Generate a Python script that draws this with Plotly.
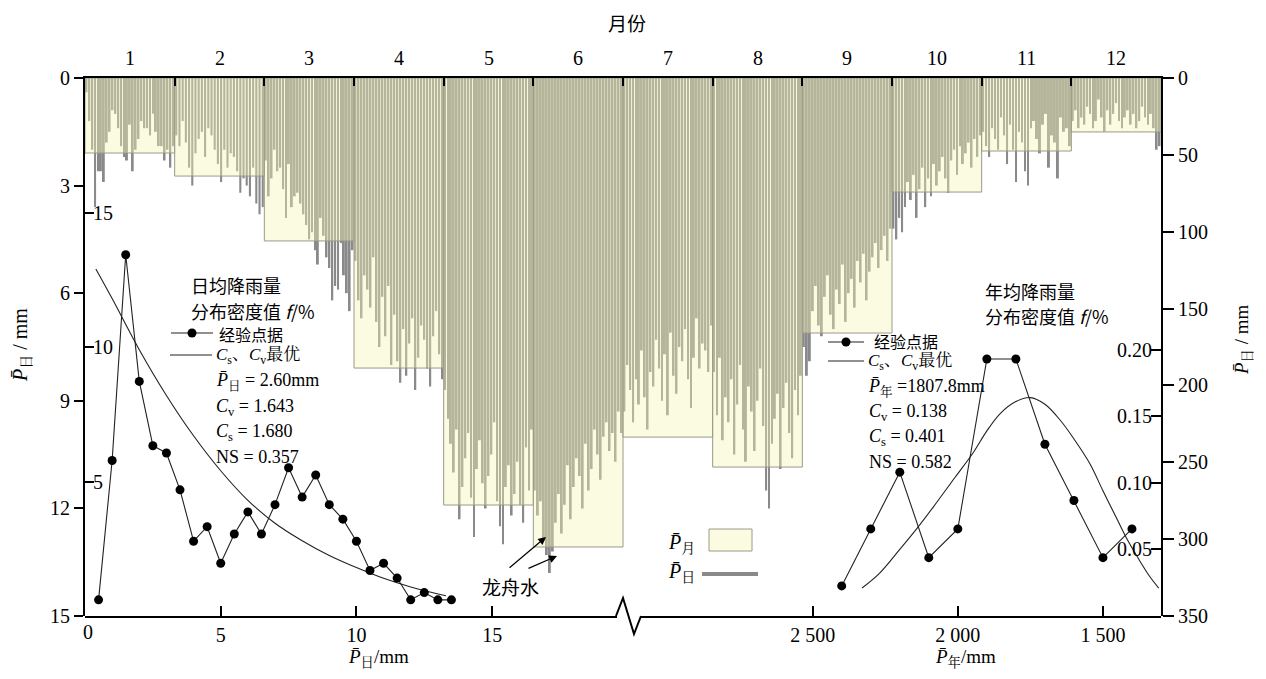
import plotly.graph_objects as go

# ---------------- data ----------------
months = ["1", "2", "3", "4", "5", "6", "7", "8", "9", "10", "11", "12"]

# daily mean rainfall (mm) for every day, month by month (left axis, 0-15)
jan = [0.4, 1.2, 2.0, 3.6, 2.6, 2.6, 2.9, 1.8, 1.5, 0.9, 1.0, 1.4, 1.9, 2.2, 2.3, 1.3,
       2.6, 2.0, 1.7, 1.2, 1.4, 1.4, 1.6, 1.0, 1.5, 1.9, 1.9, 2.3, 2.0, 2.5, 1.9]
feb = [1.6, 1.9, 1.2, 1.8, 2.5, 3.0, 2.1, 1.7, 1.5, 2.2, 1.4, 1.6, 2.0, 2.4, 2.9, 2.0,
       2.5, 2.1, 2.2, 2.6, 3.2, 2.8, 3.0, 3.3, 2.5, 3.5, 3.8, 3.6]
mar = [2.3, 3.3, 2.8, 2.0, 2.6, 2.5, 3.1, 3.9, 2.4, 3.6, 3.3, 3.2, 3.5, 3.8, 4.1, 4.5,
       4.3, 4.8, 5.2, 3.9, 4.4, 5.0, 5.3, 6.2, 5.8, 5.9, 4.6, 5.5, 6.0, 6.5, 4.8]
apr = [5.1, 6.2, 6.7, 5.5, 5.9, 6.4, 5.0, 6.8, 7.5, 6.1, 7.2, 5.8, 8.0, 6.6, 7.9, 8.5,
       7.0, 8.3, 7.4, 6.7, 8.7, 7.8, 6.9, 7.3, 8.1, 8.6, 7.2, 6.5, 7.7, 8.4]
may = [8.7, 9.5, 10.2, 11.0, 9.8, 12.3, 11.4, 10.6, 9.9, 11.7, 12.8, 10.9, 10.1, 11.3,
       12.0, 11.1, 10.5, 9.6, 11.8, 12.5, 13.0, 11.4, 10.8, 12.2, 11.6, 10.7, 11.9, 12.4,
       10.3, 11.5, 9.8]
jun = [11.5, 12.2, 11.8, 12.9, 13.3, 13.8, 13.2, 12.4, 11.6, 12.7, 11.9, 10.8, 12.3, 11.4,
       10.6, 11.1, 12.0, 10.2, 11.5, 10.9, 9.8, 10.5, 11.2, 10.0, 9.6, 10.4, 9.9, 10.7, 9.3, 9.9]
jul = [9.3, 8.0, 8.7, 9.6, 8.4, 9.1, 7.6, 8.9, 9.8, 8.2, 8.6, 7.3, 8.1, 9.0, 7.7, 9.4,
       7.1, 8.3, 8.8, 7.5, 7.9, 7.0, 8.4, 9.2, 7.8, 6.7, 8.1, 7.4, 7.6, 8.2, 6.9]
aug = [8.2, 9.4, 7.8, 10.1, 8.9, 9.6, 8.4, 10.5, 9.1, 8.0, 9.8, 10.7, 8.6, 9.3, 10.4, 9.0,
       8.1, 9.7, 11.5, 12.0, 10.2, 9.5, 8.8, 10.9, 9.2, 8.5, 9.9, 10.6, 8.7, 9.4, 8.3]
sep = [7.5, 8.3, 7.9, 6.5, 5.8, 6.9, 7.2, 6.1, 5.5, 6.6, 7.0, 5.9, 6.3, 5.2, 6.8, 6.0,
       5.6, 6.4, 5.1, 5.7, 4.9, 6.2, 5.4, 5.0, 4.6, 5.3, 4.8, 4.4, 5.1, 4.2]
oct_ = [4.2, 4.5, 3.9, 4.3, 3.6, 2.9, 3.4, 2.7, 3.9, 3.1, 2.5, 3.6, 2.8, 3.3, 2.4, 3.0,
        2.6, 2.2, 2.8, 3.2, 2.3, 2.0, 2.7, 1.9, 2.4, 2.1, 1.8, 2.5, 1.7, 2.2, 1.6]
nov = [1.5, 1.9, 2.2, 1.4, 1.7, 2.0, 1.1, 1.6, 2.4, 1.3, 2.0, 2.9, 1.5, 1.8, 2.6, 3.0,
       1.4, 1.2, 1.7, 2.1, 1.3, 1.0, 2.5, 1.6, 1.8, 2.8, 1.1, 1.5, 1.4, 1.9]
dec = [1.2, 0.9, 1.4, 1.1, 1.3, 0.8, 1.0, 1.4, 1.2, 0.6, 1.1, 1.5, 0.9, 1.3, 1.0, 0.7,
       1.2, 1.4, 1.1, 0.9, 1.3, 1.0, 1.4, 1.2, 0.8, 1.1, 1.3, 1.0, 1.4, 2.0, 1.9]
daily_by_month = [jan, feb, mar, apr, may, jun, jul, aug, sep, oct_, nov, dec]

# monthly mean rainfall (mm) (right axis, 0-350)
monthly_P = [48.8, 63.8, 106.0, 188.7, 277.8, 305.1, 233.6, 253.1, 165.9, 74.2, 47.5, 35.1]

# daily rainfall density f/% (empirical points and fitted P-III curve)
day_P = [0.5, 1.0, 1.5, 2.0, 2.5, 3.0, 3.5, 4.0, 4.5, 5.0, 5.5, 6.0, 6.5, 7.0,
         7.5, 8.0, 8.5, 9.0, 9.5, 10.0, 10.5, 11.0, 11.5, 12.0, 12.5, 13.0, 13.5]
day_f = [0.60, 5.78, 13.43, 8.72, 6.33, 6.06, 4.69, 2.78, 3.32, 1.96, 3.05, 3.87, 3.05, 4.14,
         5.51, 4.42, 5.24, 4.14, 3.60, 2.78, 1.69, 1.96, 1.41, 0.60, 0.87, 0.60, 0.60]
day_curve_P = [0.4, 1.0, 2.0, 3.0, 4.0, 5.0, 6.0, 7.0, 8.0, 9.0, 10.0, 11.0, 12.0, 13.3]
day_curve_f = [12.9, 11.8, 9.9, 8.2, 6.7, 5.4, 4.3, 3.45, 2.8, 2.25, 1.8, 1.4, 1.08, 0.75]

# annual rainfall density f/%
yr_P = [2400, 2300, 2200, 2100, 2000, 1900, 1800, 1700, 1600, 1500, 1400]
yr_f = [0.0226, 0.0654, 0.108, 0.0438, 0.0654, 0.193, 0.193, 0.129, 0.0867, 0.0438, 0.0654]
yr_curve_P = [2330, 2270, 2200, 2140, 2084, 2010, 1946, 1900, 1854, 1800, 1751, 1700, 1647,
              1600, 1544, 1500, 1452, 1420, 1383, 1340, 1308]
yr_curve_f = [0.021, 0.032, 0.050, 0.066, 0.082, 0.104, 0.123, 0.139, 0.152, 0.161, 0.164,
              0.159, 0.147, 0.133, 0.114, 0.094, 0.073, 0.059, 0.045, 0.030, 0.021]

# ---------------- geometry helpers (page pixels) ----------------
OFF = 8                      # default body margin of the html page
W, H = 1266 - 2 * OFF, 679 - 2 * OFF
X0, X1, Y0, Y1 = 85, 1161, 78, 616   # plot area in page pixels
PW, PH = X1 - X0, Y1 - Y0
L, T = X0 - OFF, Y0 - OFF
R, B = W - L - PW, H - T - PH


def px(x):
    return (x - X0) / PW


def py(y):
    return (Y1 - y) / PH


FONT = "Liberation Serif, Noto Serif CJK SC, Noto Sans CJK SC, serif"
CJK = "Noto Sans CJK SC, Liberation Serif, sans-serif"

fig = go.Figure()

# daily bars on the month axis
bx, by, bw = [], [], []
for m, vals in enumerate(daily_by_month):
    n = len(vals)
    for d, v in enumerate(vals):
        bx.append(m + (d + 0.5) / n)
        by.append(v)
        bw.append(0.66 / n)
fig.add_trace(go.Bar(x=bx, y=by, width=bw, marker=dict(color="#8a8a8a", line_width=0),
                     xaxis="x", yaxis="y", showlegend=False, hoverinfo="skip"))

# monthly boxes (semi transparent over the daily bars)
fig.add_trace(go.Bar(x=[m + 0.5 for m in range(12)], y=monthly_P, width=[1.0] * 12,
                     marker=dict(color="rgba(244,244,181,0.40)",
                                 line=dict(color="#9a9a8a", width=1)),
                     xaxis="x", yaxis="y2", showlegend=False, hoverinfo="skip"))

# daily density
fig.add_trace(go.Scatter(x=day_curve_P, y=day_curve_f, mode="lines", line_shape="spline",
                         line=dict(color="#222", width=1.1), xaxis="x2", yaxis="y3",
                         showlegend=False))
fig.add_trace(go.Scatter(x=day_P, y=day_f, mode="lines+markers",
                         line=dict(color="#222", width=1.1),
                         marker=dict(color="black", size=9), xaxis="x2", yaxis="y3",
                         showlegend=False))
# annual density
fig.add_trace(go.Scatter(x=yr_curve_P, y=yr_curve_f, mode="lines", line_shape="spline",
                         line=dict(color="#222", width=1.1), xaxis="x3", yaxis="y4",
                         showlegend=False))
fig.add_trace(go.Scatter(x=yr_P, y=yr_f, mode="lines+markers",
                         line=dict(color="#222", width=1.1),
                         marker=dict(color="black", size=9), xaxis="x3", yaxis="y4",
                         showlegend=False))

tickfont = dict(family=FONT, size=20, color="black")
common = dict(showgrid=False, zeroline=False, automargin=False, tickfont=tickfont,
              tickcolor="black", linecolor="black")

fig.update_layout(
    width=W, height=H, margin=dict(l=L, r=R, t=T, b=B, pad=0),
    paper_bgcolor="white", plot_bgcolor="rgba(0,0,0,0)", barmode="overlay", bargap=0.05,
    font=dict(family=FONT, color="black"),
    xaxis=dict(common, range=[0, 12], side="top", anchor="y", showline=True, linewidth=2,
               tickmode="array", tickvals=list(range(13)), showticklabels=False,
               ticks="inside", ticklen=8, tickwidth=2),
    yaxis=dict(common, range=[15, 0], anchor="x", side="left", showline=True, linewidth=2,
               tickmode="array", tickvals=[0, 3, 6, 9, 12, 15], ticks="outside",
               ticklen=9, tickwidth=2),
    yaxis2=dict(common, range=[350, 0], overlaying="y", anchor="x", side="right",
                showline=True, linewidth=2, tickmode="array",
                tickvals=[0, 50, 100, 150, 200, 250, 300, 350], ticks="outside",
                ticklen=11, tickwidth=2),
    xaxis2=dict(common, domain=[0, px(617)], range=[0, 19.6], anchor="y3", side="bottom",
                showline=True, linewidth=2, tickmode="array", tickvals=[5, 10, 15],
                ticks="inside", ticklen=10, tickwidth=2),
    yaxis3=dict(common, domain=[0, 1], range=[0, 20], anchor="x2", side="left",
                showline=False, tickmode="array", tickvals=[5, 10, 15], ticks="inside",
                ticklen=9, tickwidth=2, ticklabelposition="inside"),
    xaxis3=dict(common, domain=[px(640), 1], range=[3095, 1300], anchor="y4", side="bottom",
                showline=True, linewidth=2, tickmode="array", tickvals=[2500, 2000, 1500],
                ticktext=["2 500", "2 000", "1 500"], ticks="inside", ticklen=10,
                tickwidth=2),
    yaxis4=dict(common, domain=[0, 1], range=[0, 0.404], anchor="x3", side="right",
                showline=False, tickmode="array", tickvals=[0.05, 0.10, 0.15, 0.20],
                ticktext=["0.05", "0.10", "0.15", "0.20"], ticks="inside", ticklen=10,
                tickwidth=2, ticklabelposition="inside"),
)

ann = []
# month labels
for i, mth in enumerate(months):
    ann.append(dict(x=i + 0.5, y=py(58), xref="x", yref="paper", text=mth, showarrow=False,
                    font=dict(family=FONT, size=20, color="black"), xanchor="center",
                    yanchor="middle"))


def txt(x, y, s, size=18, family=FONT, xanchor="left", angle=0):
    ann.append(dict(x=px(x), y=py(y), xref="paper", yref="paper", text=s, showarrow=False,
                    font=dict(family=family, size=size, color="black"), xanchor=xanchor,
                    yanchor="middle", textangle=angle))


PD = "<i>P̄</i><sub>日</sub>"
PY = "<i>P̄</i><sub>年</sub>"
PM = "<i>P̄</i><sub>月</sub>"
CS = "<i>C</i><sub>s</sub>"
CV = "<i>C</i><sub>v</sub>"

txt(627, 22, "月份", size=19, family=CJK, xanchor="center")
txt(21, 345, PD + " / mm", size=20, xanchor="center", angle=-90)
txt(1243, 340, PD + " / mm", size=19, xanchor="center", angle=-90)
txt(378, 658, PD + "/mm", size=19, xanchor="center")
txt(965, 658, PY + "/mm", size=19, xanchor="center")
txt(88, 632, "0", size=20, xanchor="center")

# left legend block
txt(189, 285, "日均降雨量", size=18, family=CJK)
txt(189, 311, "分布密度值 <i>f</i>/%", size=18, family=CJK)
txt(217, 334, "经验点据", size=16, family=CJK)
txt(214, 356, CS + "、" + CV + "最优", size=17)
txt(214, 381, PD + " = 2.60mm", size=18)
txt(214, 407, CV + " = 1.643", size=18)
txt(214, 432, CS + " = 1.680", size=18)
txt(214, 457, "NS = 0.357", size=18)

# right legend block
txt(983, 291, "年均降雨量", size=18, family=CJK)
txt(983, 316, "分布密度值 <i>f</i>/%", size=18, family=CJK)
txt(872, 341, "经验点据", size=16, family=CJK)
txt(866, 362, CS + "、" + CV + "最优", size=17)
txt(866, 387, PY + " =1807.8mm", size=18)
txt(867, 412, CV + " = 0.138", size=18)
txt(867, 437, CS + " = 0.401", size=18)
txt(867, 462, "NS = 0.582", size=18)

# middle legend
txt(666, 543, PM, size=20)
txt(666, 572, PD, size=20)

# 龙舟水
txt(510, 586, "龙舟水", size=19, family=CJK, xanchor="center")
ann.append(dict(x=px(546), y=py(537), xref="paper", yref="paper", ax=508 - 546,
                ay=569 - 537, axref="pixel", ayref="pixel", text="", showarrow=True,
                arrowhead=2, arrowsize=1.3, arrowwidth=1.2, arrowcolor="black"))
ann.append(dict(x=px(557), y=py(556), xref="paper", yref="paper", ax=527 - 557,
                ay=569 - 556, axref="pixel", ayref="pixel", text="", showarrow=True,
                arrowhead=2, arrowsize=1.3, arrowwidth=1.2, arrowcolor="black"))
fig.update_layout(annotations=ann)

shapes = []


def seg(x0, y0, x1, y1, w=1.1, color="#222"):
    shapes.append(dict(type="line", xref="paper", yref="paper", x0=px(x0), y0=py(y0),
                       x1=px(x1), y1=py(y1), line=dict(color=color, width=w)))


def dot(x, y, r=4.5):
    shapes.append(dict(type="circle", xref="paper", yref="paper", x0=px(x - r), x1=px(x + r),
                       y0=py(y + r), y1=py(y - r), fillcolor="black",
                       line=dict(color="black", width=0)))


# legend samples
seg(171, 333, 213, 333); dot(192, 333)
seg(170, 355, 212, 355)
seg(828, 342, 864, 342); dot(846, 342)
seg(828, 361, 864, 361)
# middle legend swatches
shapes.append(dict(type="rect", xref="paper", yref="paper", x0=px(709), x1=px(752),
                   y0=py(551), y1=py(529), fillcolor="#fbfbe2",
                   line=dict(color="#9a9a8a", width=1)))
seg(702, 574, 758, 574, w=4, color="#8a8a8a")
# axis break zigzag
shapes.append(dict(type="path", xref="paper", yref="paper",
                   path="M {} {} L {} {} L {} {} L {} {}".format(
                       px(616), py(616), px(623), py(598), px(634), py(634), px(641), py(616)),
                   line=dict(color="black", width=2)))
fig.update_layout(shapes=shapes)

fig.write_html("out.html")
